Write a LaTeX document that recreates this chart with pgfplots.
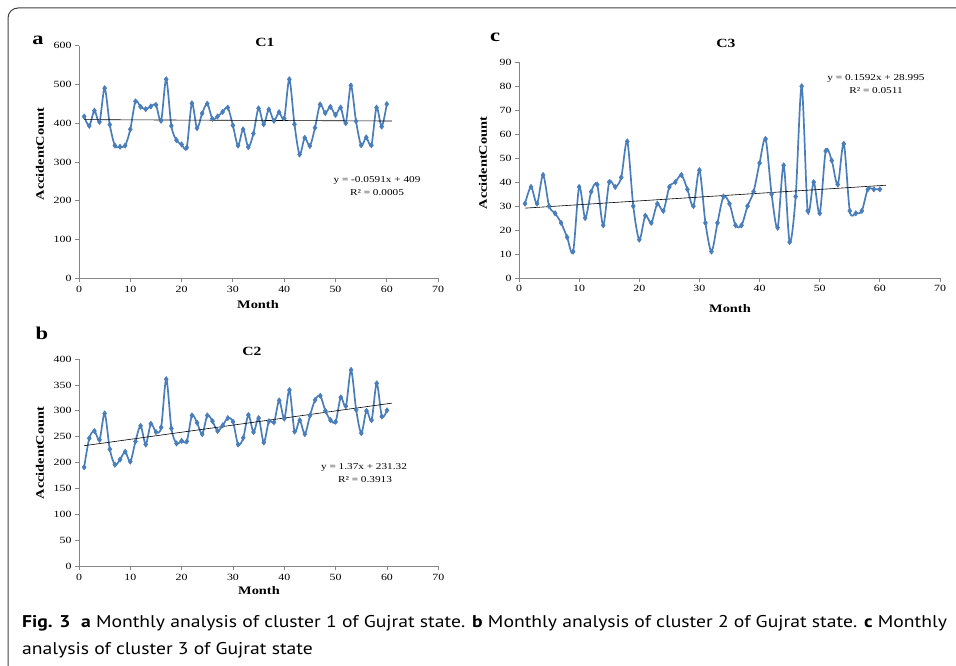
\documentclass[border=0pt]{standalone}
\usepackage{fontspec}
\setmainfont{Liberation Serif}[FakeStretch=1.25]
\newfontfamily\capfont{PT Sans}[FakeStretch=1.155]
\usepackage{pgfplots}
\usepackage{pgfplotstable}
\pgfplotsset{compat=1.18}

% month, cluster 1, cluster 2, cluster 3
\pgfplotstableread{
m c1 c2 c3
1 417 191 31
2 393 247 38
3 432 261 31
4 403 244 43
5 490 295 30
6 396 226 27
7 342 196 23
8 339 206 17
9 342 221 11
10 384 202 38
11 456 241 25
12 442 271 36
13 436 235 39
14 443 275 22
15 447 259 40
16 406 268 38
17 513 361 42
18 393 266 57
19 356 237 30
20 345 242 16
21 337 241 26
22 451 291 23
23 387 277 31
24 425 255 28
25 450 291 38
26 411 280 40
27 417 261 43
28 429 272 37
29 440 286 30
30 394 279 45
31 342 235 23
32 384 248 11
33 338 292 23
34 373 259 34
35 438 286 31
36 397 239 22
37 435 280 22
38 406 278 30
39 428 320 36
40 412 285 48
41 513 340 58
42 397 260 35
43 319 282 21
44 362 255 47
45 341 291 15
46 388 321 34
47 448 329 80
48 426 300 28
49 442 282 40
50 421 279 27
51 440 326 53
52 400 309 49
53 497 379 39
54 405 302 56
55 343 257 28
56 363 300 27
57 343 282 28
58 440 353 37
59 391 289 37
60 449 301 37
}\monthly

\definecolor{xlblue}{HTML}{4A7EBB}
\definecolor{axgray}{HTML}{868686}

\pgfplotsset{
  panel/.style={
    scale only axis,
    anchor=south west,
    axis lines*=left,
    axis line style={axgray, line width=0.8pt},
    tick style={axgray, line width=0.8pt},
    tick align=outside,
    major tick length=4pt,
    xmin=0, xmax=70,
    xtick={0,10,...,70},
    ymin=0,
    ticklabel style={font=\fontsize{9.5}{10}\selectfont},
    /pgf/number format/assume math mode=true,
    clip=false,
  },
  series/.style={xlblue, line width=1.7pt, smooth, tension=0.5,
    mark=diamond*, mark size=2.6pt, mark options={xlblue, line width=0.6pt}},
  trend/.style={black, line width=0.6pt},
}

\begin{document}
\begin{tikzpicture}
\useasboundingbox (0,0) rectangle (956pt,-666pt);

% frame
\draw[black!75, line width=1pt] (8pt,-670pt) -- (8pt,-18pt) arc[start angle=180, end angle=90, radius=10pt] -- (960pt,-8pt);

% panel a
\begin{axis}[panel, at={(79pt,-278.3pt)}, width=359.1pt, height=232.8pt,
  ymax=600, ytick={0,100,...,600}]
  \addplot[series] table[x=m, y=c1] {\monthly};
  \addplot[trend] coordinates {(1,408.94) (61,405.39)};
\end{axis}

% panel c
\begin{axis}[panel, at={(519pt,-278pt)}, width=421pt, height=215.7pt,
  ymax=90, ytick={0,10,...,90}]
  \addplot[series] table[x=m, y=c3] {\monthly};
  \addplot[trend] coordinates {(1,29.15) (61,38.71)};
\end{axis}

% panel b
\begin{axis}[panel, at={(79pt,-566.3pt)}, width=359.3pt, height=207.3pt,
  ymax=400, ytick={0,50,...,400}]
  \addplot[series] table[x=m, y=c2] {\monthly};
  \addplot[trend] coordinates {(1,232.69) (61,314.89)};
\end{axis}

% panel letters and titles
\begin{scope}[every node/.style={inner sep=0pt, font=\bfseries\fontsize{18}{18}\selectfont}]
  \node at (38pt,-40pt) {a};
  \node at (495pt,-37pt) {c};
  \node at (42pt,-333pt) {b};
\end{scope}
\begin{scope}[every node/.style={inner sep=0pt, font=\bfseries\fontsize{12.5}{13}\selectfont}]
  \node at (265pt,-42pt) {C1};
  \node at (726pt,-43pt) {C3};
  \node at (252pt,-351pt) {C2};
\end{scope}

% axis labels
\begin{scope}[every node/.style={inner sep=0pt, font=\bfseries\fontsize{11.5}{12}\selectfont}]
  \node[rotate=90] at (40pt,-154pt) {AccidentCount};
  \node[rotate=90] at (483pt,-163pt) {AccidentCount};
  \node[rotate=90] at (40pt,-453pt) {AccidentCount};
  \node at (258pt,-305pt) {Month};
  \node at (730pt,-309pt) {Month};
  \node at (259pt,-591pt) {Month};
\end{scope}

% trend equations
\begin{scope}[every node/.style={inner sep=0pt, font=\fontsize{9}{10}\selectfont}]
  \node at (377pt,-180pt) {y = -0.0591x + 409};
  \node at (377pt,-193pt) {R² = 0.0005};
  \node at (876pt,-78pt) {y = 0.1592x + 28.995};
  \node at (876pt,-91pt) {R² = 0.0511};
  \node at (364pt,-467.5pt) {y = 1.37x + 231.32};
  \node at (365pt,-480pt) {R² = 0.3913};
\end{scope}

% caption
\begin{scope}[every node/.style={inner sep=0pt, anchor=base west, font=\capfont\fontsize{17}{20}\selectfont}]
  \node at (22pt,-627pt) {\textbf{Fig. 3}\ \ \textbf{a} Monthly analysis of cluster 1 of Gujrat state. \textbf{b} Monthly analysis of cluster 2 of Gujrat state. \textbf{c} Monthly};
  \node at (22pt,-654pt) {analysis of cluster 3 of Gujrat state};
\end{scope}
\end{tikzpicture}
\end{document}
